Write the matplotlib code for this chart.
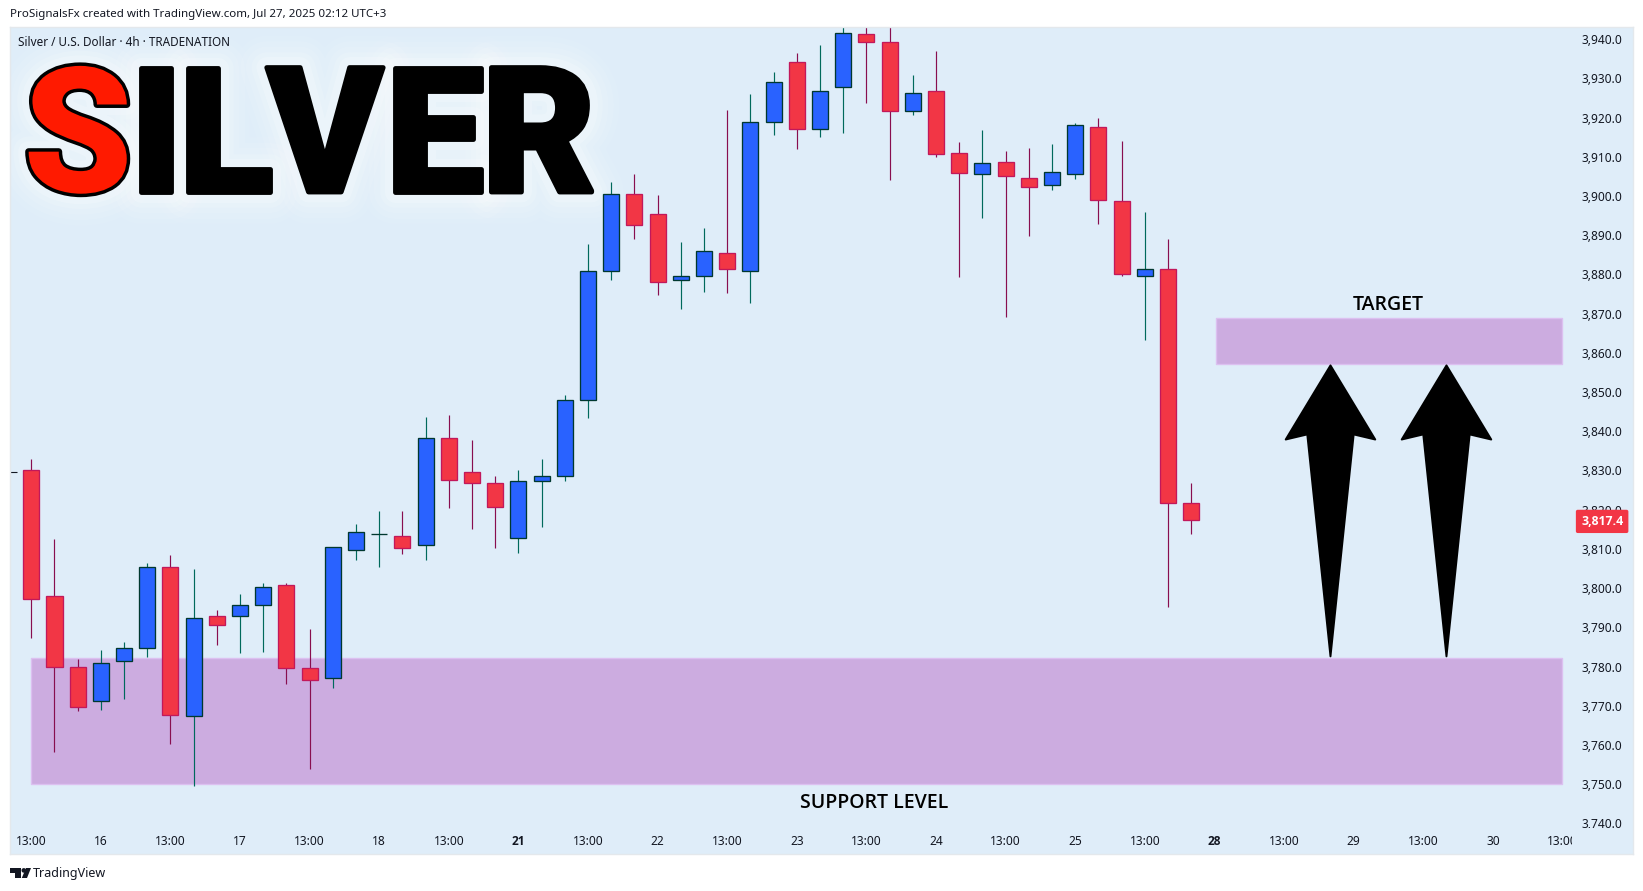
import matplotlib
matplotlib.use("Agg")
import matplotlib.pyplot as plt
import matplotlib.patheffects as pe
from matplotlib.patches import Polygon, Rectangle, Circle
from matplotlib.transforms import Bbox, Affine2D
from matplotlib.ticker import FixedLocator, FixedFormatter

W, H = 1643, 891

# ---- data -------------------------------------------------------------
opens = [3830.0,3798.1,3780.0,3771.1,3781.5,3784.8,3805.5,3767.5,3792.8,3793.0,3795.6,3800.7,3779.7,
         3777.2,3809.6,3813.7,3813.2,3810.9,3838.4,3829.7,3826.9,3812.7,3827.2,3828.5,3848.1,3880.8,
         3900.4,3895.3,3878.5,3879.5,3885.4,3881.0,3919.0,3934.1,3917.2,3927.7,3941.2,3939.4,3921.8,
         3926.9,3910.9,3905.5,3908.6,3904.5,3902.7,3905.5,3917.5,3898.6,3879.5,3881.3,3821.6]
highs = [3832.9,3812.5,3781.9,3784.2,3786.2,3806.4,3808.4,3804.8,3794.4,3798.4,3801.2,3801.2,3789.5,
         3810.4,3816.3,3819.6,3819.6,3843.6,3844.1,3837.7,3828.5,3830.1,3832.9,3849.2,3887.7,3903.5,
         3905.6,3900.2,3888.2,3891.8,3921.9,3926.0,3931.6,3936.5,3938.5,3945.0,3945.0,3945.0,3930.8,
         3937.0,3913.8,3916.8,3911.5,3912.2,3913.2,3918.6,3919.9,3914.0,3895.9,3889.0,3826.8]
lows = [3787.3,3758.2,3768.7,3768.9,3771.7,3782.4,3760.3,3749.5,3785.5,3783.5,3783.7,3775.6,3753.9,
        3774.5,3807.2,3805.4,3808.7,3807.2,3820.5,3815.1,3810.3,3809.0,3815.6,3827.3,3843.4,3878.6,
        3889.1,3874.8,3871.2,3875.6,3875.3,3872.8,3915.6,3912.0,3915.1,3916.1,3923.8,3904.1,3920.7,
        3910.0,3879.4,3894.4,3869.2,3889.9,3901.6,3904.4,3892.9,3879.6,3863.3,3795.2,3813.8]
closes = [3797.3,3779.9,3769.8,3781.0,3784.8,3805.3,3767.7,3792.5,3790.7,3795.8,3800.2,3779.6,3776.7,
          3810.4,3814.2,3813.7,3810.3,3838.4,3827.7,3826.7,3820.8,3827.2,3828.7,3848.1,3881.0,3900.4,
          3892.5,3878.0,3879.5,3885.9,3881.3,3919.0,3929.2,3917.0,3926.7,3941.5,3939.3,3921.8,3926.2,
          3910.6,3905.8,3908.3,3905.0,3902.3,3906.0,3918.0,3899.1,3880.0,3881.3,3821.6,3817.4]

price_ticks = [3740,3750,3760,3770,3780,3790,3800,3810,3820,3830,3840,3850,3860,3870,3880,3890,
               3900,3910,3920,3930,3940]
time_ticks = list(range(0, 67, 3))
time_labels = ["13:00","16","13:00","17","13:00","18","13:00","21","13:00","22","13:00","23",
               "13:00","24","13:00","25","13:00","28","13:00","29","13:00","30","13:00"]
bold_labels = ["21","28"]

support_zone = (0.0, 66.0, 3750.0, 3782.2)
target_zone = (51.05, 66.0, 3857.1, 3868.9)
arrow_centres = [56.0, 61.0]
arrow_tip, arrow_base, arrow_wing, arrow_join = 3856.8, 3782.6, 3837.9, 3839.2

last_price = 3817.4
prev_mark = 3829.5

letters = ["S","I","L","V","E","R"]
letter_x = [78,156,226,325,435,539]
letter_colors = ["#FF1A00","black","black","black","black","black"]

# ---- colours ----------------------------------------------------------
BG = "#DFEDF9"
INK = "#131722"
UP_FILL, UP_EDGE, UP_WICK = "#2962FF", "#00382F", "#00695C"
DN_FILL, DN_EDGE, DN_WICK = "#F23645", "#C2185B", "#880E4F"
ZONE, ZONE_EDGE = "#CCACE0", "#DCC0F0"
FONT = "Noto Sans"
BOLD = "Open Sans"
TITLE_FONT = "Roboto"

plt.rcParams["font.family"] = FONT
fig = plt.figure(figsize=(W/100, H/100), dpi=100, facecolor="white")

def fx(px): return px / W
def fy(py): return 1 - py / H

L, T, R, B = 10, 27, 1633, 854
ax = fig.add_axes([fx(L), fy(B), fx(R) - fx(L), fy(T) - fy(B)], facecolor=BG)
ax.set_xlim(-0.918, 69.04)
ax.set_ylim(3732.2, 3943.1)
ax.set_axisbelow(False)
for s in ax.spines.values():
    s.set_color("#E4E8EC"); s.set_linewidth(1.0)

# zones
for x0, x1, y0, y1 in (support_zone, target_zone):
    ax.add_patch(Rectangle((x0, y0), x1 - x0, y1 - y0, fc=ZONE, ec=ZONE_EDGE, lw=1.0, zorder=1))

# candles
xs = list(range(len(opens)))
up = [c >= o for o, c in zip(opens, closes)]
ax.vlines(xs, lows, highs, colors=[UP_WICK if u else DN_WICK for u in up], lw=0.85, zorder=2)
bottoms = [min(o, c) for o, c in zip(opens, closes)]
heights = [abs(c - o) for o, c in zip(opens, closes)]
ax.bar(xs, heights, bottom=bottoms, width=0.69,
       color=[UP_FILL if u else DN_FILL for u in up],
       edgecolor=[UP_EDGE if u else DN_EDGE for u in up], linewidth=0.95, zorder=3)

# arrows
for c in arrow_centres:
    pts = [(c, arrow_tip), (c + 1.93, arrow_wing), (c + 1, arrow_join), (c, arrow_base),
           (c - 1, arrow_join), (c - 1.93, arrow_wing)]
    ax.add_patch(Polygon(pts, closed=True, fc="black", ec="black", lw=1.4, joinstyle="round", zorder=5))

# previous-session mark
ax.hlines(prev_mark, -0.918, -0.62, colors=INK, lw=0.8, zorder=2)

# axes ticks as labels inside the pane
ax.yaxis.tick_right()
ax.yaxis.set_major_locator(FixedLocator(price_ticks))
ax.yaxis.set_major_formatter(FixedFormatter([f"{v:,.1f}" for v in price_ticks]))
ax.xaxis.set_major_locator(FixedLocator(time_ticks))
ax.xaxis.set_major_formatter(FixedFormatter(time_labels))
ax.tick_params(axis="y", length=0, pad=-(R - 1582) * 0.72, labelsize=8.6, labelcolor=INK)
ax.tick_params(axis="x", length=0, pad=-(B - 835) * 0.72, labelsize=8.6, labelcolor=INK)
fig.canvas.draw()
clip_y = Bbox.from_extents(0, H - 828, W, H)
clip_x = Bbox.from_extents(0, 0, 1572, H)
for t in ax.get_yticklabels():
    t.set_clip_on(True); t.set_clip_box(clip_y)
for t in ax.get_xticklabels():
    t.set_clip_on(True); t.set_clip_box(clip_x)
    if t.get_text() in bold_labels:
        t.set_family(BOLD); t.set_fontweight("bold")

# last-price tag
ax.annotate(f"{last_price:,.1f}", xy=((1581 - L) / (R - L), last_price), xycoords=ax.get_yaxis_transform(),
            xytext=(0, -1.5), textcoords="offset pixels",
            ha="left", va="center", fontsize=8.8, family=BOLD, fontweight="bold", color="white", zorder=8,
            bbox=dict(boxstyle="round,pad=0.42,rounding_size=0.15", fc=DN_FILL, ec="none"))

# annotation labels
ax.text(58.5, 3872.1, "TARGET", ha="center", va="center", fontsize=14, family=BOLD, fontweight="semibold", color="black", zorder=6)
ax.text(36.35, 3745.1, "SUPPORT LEVEL", ha="center", va="center", fontsize=14, family=BOLD, fontweight="semibold", color="black", zorder=6)

# header texts
fig.text(fx(10), fy(15), "ProSignalsFx created with TradingView.com, Jul 27, 2025 02:12 UTC+3",
         ha="left", va="center", fontsize=8.3, color=INK)
fig.text(fx(18), fy(42), "Silver / U.S. Dollar · 4h · TRADENATION", ha="left", va="center", fontsize=8.45, color=INK)

# title letters: glow inside the axes, beneath the zones and candles
for ch, x in zip(letters, letter_x):
    glow = [pe.Stroke(linewidth=w, foreground="white", alpha=a) for w, a in
            ((46, 0.06), (38, 0.08), (30, 0.10), (22, 0.14), (15, 0.20))]
    ax.text(fx(x), fy(192), ch, transform=fig.transFigure, ha="center", va="baseline", fontsize=126,
            color="white", family=TITLE_FONT, fontweight="black", path_effects=glow, zorder=0.5)
for ch, x, col in zip(letters, letter_x, letter_colors):
    lw = 5.0 if ch == "S" else 3.5
    outline = [pe.Stroke(linewidth=lw, foreground="black", joinstyle="round"), pe.Normal()]
    fig.text(fx(x), fy(192), ch, ha="center", va="baseline", fontsize=126, color=col,
             family=TITLE_FONT, fontweight="black", path_effects=outline, zorder=5)

# footer
trans = Affine2D().scale(1, -1).translate(0, H)
logo = [Polygon([(10, 868), (21, 868), (21, 878), (15, 878), (15, 872.5), (10, 872.5)], closed=True),
        Circle((23.8, 870.4), 2.3),
        Polygon([(26, 868), (31, 868), (27, 878), (21.8, 878)], closed=True)]
for p in logo:
    p.set_facecolor(INK); p.set_edgecolor("none"); p.set_transform(trans)
    fig.add_artist(p)
fig.text(fx(33), fy(873), "TradingView", ha="left", va="center", fontsize=9.0, color=INK)

fig.savefig("out.png", dpi=100, facecolor="white")
